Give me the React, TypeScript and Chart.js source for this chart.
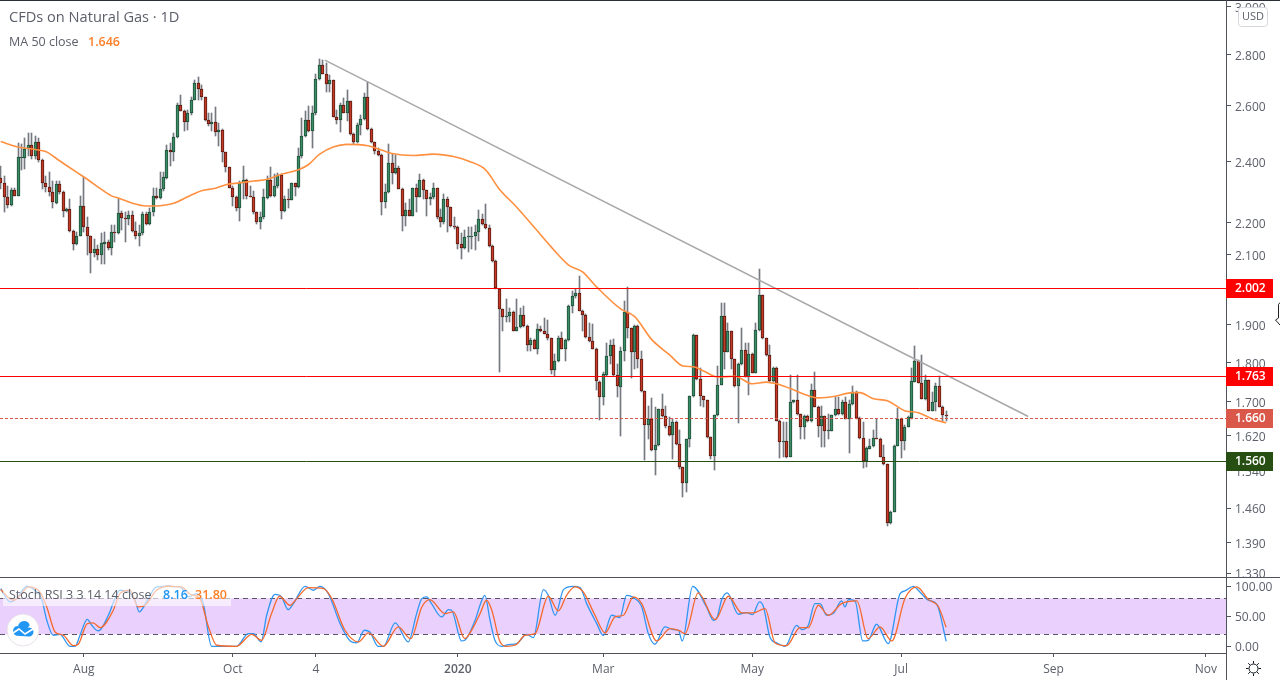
import React, { useEffect, useRef } from "react";
import { Chart, registerables } from "chart.js";

Chart.register(...registerables);

const FONT = '"Open Sans", "Noto Sans", sans-serif';

const opens = [
  2.344,2.329,2.282,2.256,2.303,2.285,2.414,2.413,2.445,2.459,
  2.419,2.469,2.406,2.328,2.315,2.299,2.263,2.324,2.297,2.235,
  2.242,2.173,2.132,2.157,2.253,2.185,2.157,2.105,2.117,2.098,
  2.134,2.139,2.12,2.17,2.165,2.228,2.214,2.21,2.222,2.172,
  2.157,2.166,2.226,2.193,2.232,2.285,2.278,2.307,2.344,2.441,
  2.433,2.487,2.602,2.58,2.54,2.573,2.622,2.685,2.662,2.632,
  2.547,2.532,2.54,2.504,2.512,2.433,2.38,2.312,2.282,2.244,
  2.326,2.339,2.285,2.282,2.232,2.201,2.216,2.279,2.339,2.285,
  2.316,2.354,2.237,2.275,2.273,2.326,2.315,2.419,2.49,2.548,
  2.507,2.573,2.703,2.755,2.722,2.683,2.697,2.559,2.547,2.602,
  2.575,2.617,2.496,2.468,2.529,2.551,2.632,2.515,2.469,2.437,
  2.423,2.264,2.298,2.396,2.362,2.379,2.309,2.219,2.238,2.221,
  2.312,2.282,2.336,2.303,2.274,2.28,2.312,2.216,2.2,2.274,
  2.248,2.188,2.184,2.131,2.12,2.154,2.157,2.157,2.17,2.21,
  2.194,2.182,2.126,2.081,1.999,1.943,1.921,1.923,1.933,1.883,
  1.892,1.927,1.897,1.844,1.858,1.835,1.889,1.881,1.875,1.863,
  1.779,1.803,1.863,1.835,1.858,1.95,1.978,1.987,1.937,1.927,
  1.866,1.855,1.835,1.75,1.713,1.768,1.816,1.844,1.767,1.738,
  1.828,1.935,1.89,1.827,1.897,1.809,1.727,1.644,1.658,1.586,
  1.598,1.682,1.665,1.642,1.621,1.653,1.6,1.549,1.513,1.611,
  1.715,1.871,1.758,1.715,1.704,1.616,1.574,1.669,1.743,1.922,
  1.827,1.881,1.807,1.74,1.794,1.831,1.763,1.822,1.773,1.885,
  1.982,1.863,1.818,1.751,1.785,1.655,1.605,1.607,1.571,1.699,
  1.705,1.671,1.64,1.667,1.654,1.73,1.688,1.643,1.665,1.631,
  1.631,1.669,1.684,1.671,1.701,1.659,1.695,1.724,1.662,1.615,
  1.561,1.59,1.595,1.615,1.613,1.572,1.555,1.429,1.452,1.597,
  1.66,1.608,1.641,1.661,1.75,1.803,1.747,1.708,1.755,1.679,
  1.699,1.739,1.689,1.669,
];
const closes = [
  2.329,2.282,2.256,2.303,2.285,2.415,2.415,2.445,2.459,2.419,
  2.469,2.406,2.328,2.315,2.299,2.264,2.324,2.297,2.235,2.242,
  2.173,2.132,2.157,2.253,2.185,2.157,2.105,2.117,2.098,2.136,
  2.139,2.12,2.17,2.165,2.228,2.214,2.21,2.222,2.172,2.157,
  2.166,2.226,2.193,2.232,2.285,2.278,2.307,2.346,2.441,2.433,
  2.488,2.602,2.58,2.54,2.573,2.622,2.685,2.662,2.632,2.547,
  2.532,2.54,2.504,2.512,2.433,2.38,2.312,2.282,2.244,2.326,
  2.339,2.285,2.282,2.232,2.201,2.216,2.28,2.339,2.285,2.317,
  2.354,2.237,2.275,2.273,2.326,2.315,2.42,2.491,2.548,2.507,
  2.573,2.703,2.755,2.722,2.683,2.697,2.559,2.547,2.602,2.575,
  2.617,2.496,2.468,2.53,2.551,2.632,2.515,2.469,2.437,2.423,
  2.264,2.298,2.396,2.362,2.379,2.309,2.219,2.238,2.221,2.312,
  2.282,2.336,2.303,2.274,2.28,2.312,2.216,2.2,2.274,2.248,
  2.188,2.184,2.131,2.12,2.154,2.158,2.158,2.171,2.21,2.194,
  2.182,2.126,2.081,2.001,1.943,1.921,1.923,1.933,1.883,1.892,
  1.927,1.897,1.844,1.858,1.835,1.889,1.881,1.875,1.863,1.779,
  1.803,1.863,1.835,1.858,1.95,1.978,1.987,1.937,1.927,1.866,
  1.855,1.835,1.752,1.713,1.77,1.816,1.844,1.767,1.74,1.828,
  1.935,1.89,1.827,1.897,1.809,1.727,1.644,1.658,1.586,1.598,
  1.682,1.665,1.642,1.621,1.653,1.6,1.549,1.513,1.611,1.715,
  1.871,1.758,1.715,1.704,1.616,1.574,1.669,1.743,1.922,1.827,
  1.881,1.807,1.74,1.794,1.831,1.763,1.822,1.773,1.886,1.982,
  1.863,1.818,1.752,1.785,1.655,1.605,1.607,1.571,1.699,1.705,
  1.671,1.64,1.667,1.654,1.73,1.688,1.643,1.665,1.631,1.632,
  1.669,1.684,1.671,1.701,1.659,1.695,1.724,1.662,1.615,1.561,
  1.591,1.595,1.615,1.614,1.571,1.555,1.429,1.452,1.597,1.659,
  1.608,1.641,1.663,1.752,1.803,1.747,1.708,1.755,1.679,1.699,
  1.739,1.689,1.668,1.666,
];
const highs = [
  2.385,2.351,2.318,2.312,2.312,2.465,2.46,2.483,2.5,2.5,
  2.489,2.483,2.408,2.351,2.363,2.335,2.335,2.335,2.302,2.247,
  2.275,2.175,2.17,2.286,2.346,2.216,2.157,2.149,2.128,2.165,
  2.17,2.144,2.19,2.19,2.275,2.237,2.232,2.237,2.237,2.2,
  2.19,2.232,2.232,2.247,2.312,2.312,2.363,2.363,2.459,2.465,
  2.5,2.61,2.64,2.585,2.585,2.635,2.698,2.708,2.679,2.635,
  2.573,2.573,2.595,2.537,2.515,2.435,2.38,2.318,2.285,2.335,
  2.385,2.34,2.318,2.302,2.232,2.232,2.307,2.351,2.38,2.357,
  2.36,2.357,2.285,2.307,2.326,2.329,2.448,2.555,2.58,2.598,
  2.598,2.72,2.78,2.776,2.763,2.717,2.697,2.585,2.61,2.628,
  2.66,2.617,2.501,2.535,2.567,2.647,2.692,2.519,2.469,2.448,
  2.425,2.323,2.463,2.425,2.423,2.385,2.312,2.261,2.275,2.312,
  2.323,2.357,2.342,2.305,2.296,2.327,2.312,2.242,2.291,2.28,
  2.248,2.216,2.188,2.165,2.175,2.185,2.185,2.19,2.239,2.226,
  2.258,2.19,2.128,2.083,1.999,1.943,1.971,1.945,1.936,1.971,
  1.945,1.95,1.899,1.864,1.86,1.901,1.895,1.917,1.912,1.864,
  1.82,1.868,1.879,1.86,1.954,1.992,1.999,2.037,1.94,1.928,
  1.904,1.902,1.837,1.752,1.775,1.85,1.857,1.86,1.795,1.84,
  1.964,2.006,1.89,1.899,1.899,1.828,1.727,1.691,1.709,1.687,
  1.683,1.72,1.691,1.663,1.659,1.655,1.632,1.549,1.612,1.715,
  1.874,1.871,1.786,1.715,1.706,1.617,1.669,1.79,1.959,1.959,
  1.904,1.883,1.809,1.799,1.89,1.851,1.851,1.824,1.904,2.057,
  1.982,1.864,1.846,1.788,1.788,1.657,1.651,1.651,1.766,1.706,
  1.766,1.672,1.669,1.669,1.745,1.775,1.691,1.691,1.667,1.671,
  1.669,1.713,1.711,1.705,1.711,1.705,1.739,1.726,1.663,1.651,
  1.594,1.612,1.632,1.66,1.615,1.599,1.556,1.453,1.599,1.685,
  1.661,1.644,1.665,1.784,1.842,1.805,1.818,1.767,1.755,1.725,
  1.747,1.764,1.691,1.677,
];
const lows = [
  2.307,2.234,2.247,2.251,2.285,2.285,2.37,2.374,2.42,2.408,
  2.408,2.397,2.307,2.297,2.285,2.247,2.259,2.29,2.216,2.232,
  2.17,2.113,2.129,2.157,2.17,2.098,2.045,2.093,2.083,2.073,
  2.073,2.113,2.098,2.139,2.164,2.175,2.139,2.19,2.17,2.149,
  2.125,2.159,2.19,2.19,2.221,2.275,2.275,2.302,2.34,2.385,
  2.402,2.484,2.579,2.507,2.51,2.567,2.62,2.622,2.622,2.543,
  2.525,2.507,2.49,2.454,2.397,2.363,2.312,2.252,2.237,2.203,
  2.275,2.275,2.28,2.226,2.196,2.18,2.211,2.275,2.28,2.28,
  2.312,2.211,2.232,2.247,2.27,2.285,2.312,2.413,2.487,2.504,
  2.448,2.567,2.7,2.72,2.654,2.654,2.557,2.532,2.503,2.573,
  2.543,2.495,2.463,2.466,2.495,2.549,2.513,2.465,2.428,2.419,
  2.224,2.246,2.296,2.323,2.357,2.307,2.172,2.187,2.221,2.219,
  2.232,2.28,2.275,2.221,2.254,2.275,2.211,2.185,2.195,2.168,
  2.185,2.18,2.118,2.086,2.118,2.108,2.118,2.113,2.141,2.19,
  2.18,2.123,2.078,1.999,1.775,1.881,1.908,1.908,1.881,1.881,
  1.89,1.894,1.829,1.829,1.833,1.82,1.879,1.874,1.859,1.769,
  1.764,1.801,1.833,1.804,1.856,1.931,1.973,1.936,1.883,1.864,
  1.853,1.833,1.73,1.657,1.692,1.765,1.795,1.765,1.713,1.62,
  1.803,1.864,1.76,1.782,1.786,1.725,1.564,1.611,1.584,1.531,
  1.595,1.663,1.638,1.62,1.567,1.598,1.545,1.483,1.495,1.594,
  1.713,1.755,1.691,1.687,1.615,1.567,1.543,1.667,1.741,1.782,
  1.826,1.782,1.738,1.65,1.792,1.762,1.717,1.772,1.771,1.883,
  1.861,1.816,1.75,1.749,1.654,1.569,1.571,1.569,1.57,1.697,
  1.669,1.612,1.613,1.653,1.653,1.687,1.616,1.594,1.594,1.612,
  1.63,1.667,1.669,1.669,1.658,1.581,1.693,1.66,1.613,1.547,
  1.549,1.589,1.594,1.612,1.57,1.553,1.422,1.428,1.451,1.596,
  1.569,1.587,1.64,1.66,1.75,1.746,1.707,1.706,1.678,1.678,
  1.678,1.687,1.655,1.655,
];

const maIdx = [0,5,10,13,17,22,25,29,32,34,38,42,46,50,54,58,62,65,69,73,77,81,86,89,92,96,100,106,110,113,119,125,131,135,140,144,149,154,159,164,168,172,179,183,188,193,197,200,203,207,212,217,221,224,228,232,236,241,246,248,252,256,261,265,269,273];
const maVal = [2.47,2.451,2.442,2.435,2.403,2.363,2.34,2.307,2.285,2.278,2.261,2.252,2.253,2.261,2.282,2.302,2.31,2.322,2.328,2.334,2.34,2.357,2.372,2.391,2.425,2.451,2.46,2.455,2.44,2.428,2.421,2.426,2.417,2.402,2.372,2.307,2.248,2.185,2.123,2.069,2.049,2.006,1.943,1.922,1.859,1.82,1.79,1.788,1.777,1.762,1.764,1.745,1.749,1.745,1.733,1.719,1.71,1.714,1.723,1.723,1.708,1.703,1.679,1.674,1.659,1.65];

const kIdx = [0,2.7,4.6,7.5,9.9,11.8,13.3,15.2,17.1,20,21.5,22.9,25,26.3,28.2,31.1,33,34.4,36.9,38.8,40,42.1,45,47.9,51.8,54.2,56.6,58.5,60.9,63.3,68.1,71.5,73,75.2,76.8,79.2,81.1,83,84.5,87.9,90.3,92.2,94.6,98,100.9,102.8,105,106.6,109,110.5,113.9,117.7,120.1,121.6,123,124.4,127.3,129.3,130.2,133.1,134,137,138.4,139.8,141.3,142.7,144.7,146.6,149,151.9,153.8,156.7,158.1,160.1,162.5,165.3,167.3,169.2,172.1,174,176.4,178.8,180.7,182.7,185.1,187,188.9,191.8,194.2,195.7,196.8,199.8,203.8,205.8,206.9,208.2,209.8,213,215.4,217.1,219.1,220.2,222.1,224.1,226.5,229.8,231.3,233.2,235.1,236.6,238.5,240.4,242.8,243.8,244.8,246.7,248.9,250.5,252.9,256.3,259.7,261.1,263.5,265.4,267.9,270.3,273];
const kVal = [96.1,73.9,79.5,100,93.4,79.5,43.4,18.4,20,0,0,18.4,45,35,25.6,51.7,79.5,93.4,90.6,76.7,57.3,73.9,98.9,100,98.9,82.3,87.8,71.1,0,0,0,21.1,21.1,7.3,51.7,86.7,82.3,61.1,71.1,100,93.4,100,87.8,37.8,8.9,5.6,26.7,23.9,0,0,38.9,7.3,54.5,79.5,82.3,71.1,48.9,61.1,60,8.9,10,43.4,68.4,85,43.4,10,0,2.8,4.5,20,14.5,94.5,85,51.7,94.5,100,97.8,71.1,37.8,17.8,51.7,47.8,85,81.1,65.6,21.1,3.4,32.3,27.8,26.7,8.9,100,65.6,43.4,48.9,77.8,88.9,53.4,56.1,52.8,73.9,66.7,15.6,5.6,0,35,27.8,35,71.1,71.1,51.7,54.5,75.6,65.6,77.8,75.6,8.9,10,36.7,4.5,87.8,92.3,100,90.6,76.7,70,8.16];

const dIdx = [0,3.6,5.6,8,11.3,13.3,15.7,18.1,21,22.4,25,26.7,28.7,32.5,34.4,37.3,39.7,41.7,45,48.4,52.2,54.7,57.5,60,62.4,68.1,72.5,75.3,78.2,80.5,83.5,85.5,88.8,93.2,95.6,99.4,103.3,106.2,110.5,114.8,118.4,121.6,123.9,128.3,130.7,134,136.5,138.4,140.3,141.8,144.2,146.1,149,151.4,154.3,158.1,161,163.4,165.8,168.2,171.6,174.5,177.4,179.8,182.7,185.1,189.4,193.3,196.1,197.6,201.4,206.3,210.1,214,217.3,220.7,223.6,226.9,230.8,233.2,236.1,239,242.8,247.2,250.5,253.9,257.3,261.1,264.5,267.9,270.7,273];
const dVal = [94.5,76.7,85,98.9,90.6,65.6,23.9,18.4,1.1,3.4,37.8,38.9,31.1,60,87.8,93.4,65.6,68.4,93.4,100,98.9,86.7,79.5,32.3,1.7,0,20,10,54.5,83.4,68.4,79.5,97.8,96.1,79.5,26.7,7.3,22.3,0,32.3,12.8,65.6,77.8,54.5,57.3,12.8,32.3,54.5,76.7,60,7.3,0,3.4,18.4,21.1,83.4,59,85,98.9,90.6,51.7,22.3,48.9,51.7,82.3,71.1,8.9,29.5,25.6,21.1,88.9,44.5,83.4,55.6,55.6,62.8,5.6,1.1,31.1,31.1,68.4,51.7,71.1,75.6,12.8,32.3,8.9,79.5,98.9,77.8,66.7,31.8];

const trendIdx = [93.6, 296.7];
const trendVal = [2.776, 1.665];

const priceTicks = [3.0, 2.8, 2.6, 2.4, 2.2, 2.1, 1.9, 1.8, 1.7, 1.62, 1.54, 1.46, 1.39, 1.33];
const rsiTicks = [0, 50, 100];
const dateTickIdx = [24, 67, 91, 132, 174, 217, 260, 304, 348];
const dateTickLabels = ["Aug", "Oct", "4", "2020", "Mar", "May", "Jul", "Sep", "Nov"];

const levelValues = [2.002, 1.763, 1.66, 1.56];
const levelLabels = ["2.002", "1.763", "1.660", "1.560"];
const levelColors = ["#ff0000", "#ff0000", "#d9584a", "#274f13"];
const rsiBand = [20, 80];

const X_MIN = -0.2;
const X_MAX = 353.8;
const LINE = "#50535e";
const TEXT = "#5d606b";

const snap = (chart: any, wick: boolean, idx: number) => {
  const meta = chart.getDatasetMeta(idx);
  meta.data.forEach((el: any) => {
    el.x = wick ? Math.floor(el.x) + 0.5 : Math.round(el.x - 1.5) + 1.5;
    el.y = Math.round(el.y);
    el.base = Math.round(el.base);
    if (el.base === el.y) el.base = el.y + 1;
  });
};

const overlay = {
  id: "overlay",
  afterDatasetsUpdate(chart: any) {
    snap(chart, true, 0);
    snap(chart, false, 1);
    snap(chart, false, 2);
    [5, 6, 7, 8].forEach((d) => {
      chart.getDatasetMeta(d).data.forEach((el: any) => {
        el.y = Math.floor(el.y) + 0.5;
      });
    });
  },
  beforeDatasetsDraw(chart: any) {
    const { ctx, chartArea, scales } = chart;
    const y1 = scales.yRsi.getPixelForValue(rsiBand[1]);
    const y0 = scales.yRsi.getPixelForValue(rsiBand[0]);
    ctx.save();
    ctx.fillStyle = "#e9d0fd";
    ctx.fillRect(chartArea.left, y1, chartArea.right - chartArea.left, y0 - y1);
    ctx.strokeStyle = "#5a5566";
    ctx.lineWidth = 1;
    ctx.setLineDash([5, 4]);
    [y1, y0].forEach((y: number) => {
      const py = Math.floor(y) + 0.5;
      ctx.beginPath();
      ctx.moveTo(chartArea.left, py);
      ctx.lineTo(chartArea.right, py);
      ctx.stroke();
    });
    ctx.restore();
  },
  afterDraw(chart: any) {
    const { ctx, scales } = chart;
    ctx.save();
    // frame
    ctx.fillStyle = "#ffffff";
    ctx.fillRect(1227, 578, 53, 2);
    ctx.fillStyle = "#2a2e39";
    ctx.fillRect(0, 0, 1280, 1);
    ctx.fillStyle = LINE;
    ctx.fillRect(0, 577, 1280, 1);
    ctx.fillRect(0, 653, 1226, 1);
    ctx.fillRect(1226, 0, 1, 680);

    // price labels
    ctx.textBaseline = "middle";
    ctx.textAlign = "left";
    levelValues.forEach((v, i) => {
      const y = Math.floor(scales.y.getPixelForValue(v));
      ctx.fillStyle = levelColors[i];
      ctx.fillRect(1226, y - 9, 47, 19);
      ctx.fillStyle = "#ffffff";
      ctx.font = `600 12px ${FONT}`;
      ctx.fillText(levelLabels[i], 1235, y + 1);
    });

    // USD
    ctx.fillStyle = "#ffffff";
    ctx.strokeStyle = "#d6d8de";
    ctx.lineWidth = 1;
    ctx.beginPath();
    ctx.roundRect(1238.5, 7.5, 29, 19, 3);
    ctx.fill();
    ctx.stroke();
    ctx.fillStyle = TEXT;
    ctx.font = `11px ${FONT}`;
    ctx.textAlign = "center";
    ctx.fillText("USD", 1253, 17);
    ctx.textAlign = "left";

    // cursor
    ctx.fillStyle = "#ffffff";
    ctx.strokeStyle = "#222222";
    ctx.beginPath();
    ctx.moveTo(1280, 302.5);
    ctx.lineTo(1278.5, 304.5);
    ctx.lineTo(1278.5, 318);
    ctx.lineTo(1275.5, 320);
    ctx.lineTo(1280, 325);
    ctx.fill();
    ctx.stroke();

    // headers
    ctx.fillStyle = TEXT;
    ctx.font = `14.6px ${FONT}`;
    ctx.fillText("CFDs on Natural Gas · 1D", 9, 18);
    ctx.font = `12.5px ${FONT}`;
    ctx.fillText("MA 50 close", 9, 42);
    ctx.fillStyle = "#ff7f27";
    ctx.font = `600 12.5px ${FONT}`;
    ctx.fillText("1.646", 88, 42);

    // stoch header
    ctx.fillStyle = "rgba(255,255,255,0.6)";
    ctx.fillRect(3, 586, 228, 20);
    ctx.fillStyle = TEXT;
    ctx.font = `12.5px ${FONT}`;
    ctx.fillText("Stoch RSI 3 3 14 14 close", 9, 595);
    ctx.font = `600 12.5px ${FONT}`;
    ctx.fillStyle = "#2196f3";
    ctx.fillText("8.16", 163, 595);
    ctx.fillStyle = "#ff7f27";
    ctx.fillText("31.80", 195, 595);

    // logo
    ctx.fillStyle = "#ffffff";
    ctx.strokeStyle = "#e8dfea";
    ctx.beginPath();
    ctx.arc(23, 630, 16, 0, Math.PI * 2);
    ctx.fill();
    ctx.stroke();
    ctx.fillStyle = "#2196f3";
    ctx.beginPath();
    ctx.arc(18, 631, 5, Math.PI * 0.6, Math.PI * 1.5);
    ctx.arc(24, 627, 6, Math.PI, Math.PI * 1.9);
    ctx.arc(29, 632, 4.5, Math.PI * 1.4, Math.PI * 0.5);
    ctx.closePath();
    ctx.fill();
    ctx.strokeStyle = "#ffffff";
    ctx.lineWidth = 1.6;
    ctx.beginPath();
    ctx.moveTo(13, 633);
    ctx.lineTo(19, 629);
    ctx.lineTo(25, 634);
    ctx.lineTo(33, 629);
    ctx.stroke();

    // sun
    ctx.strokeStyle = "#131722";
    ctx.lineWidth = 1;
    ctx.beginPath();
    ctx.arc(1253.5, 668.5, 4.5, 0, Math.PI * 2);
    ctx.stroke();
    for (let a = 0; a < 8; a++) {
      const t = (a * Math.PI) / 4;
      ctx.beginPath();
      ctx.moveTo(1253.5 + Math.cos(t) * 5, 668.5 + Math.sin(t) * 5);
      ctx.lineTo(1253.5 + Math.cos(t) * 7.5, 668.5 + Math.sin(t) * 7.5);
      ctx.stroke();
    }
    ctx.restore();
  },
};

const zeroPad = (s: any) => {
  s.paddingTop = 0;
  s.paddingBottom = 0;
  s.paddingLeft = 0;
  s.paddingRight = 0;
};

export default function App() {
  const ref = useRef<HTMLCanvasElement | null>(null);
  useEffect(() => {
    document.body.style.margin = "0";
    const idx = opens.map((_, i) => i);
    const up = idx.filter((i) => closes[i] >= opens[i]);
    const down = idx.filter((i) => closes[i] < opens[i]);
    const pts = (xs: number[], ys: number[]) => xs.map((x, i) => ({ x, y: ys[i] }));
    const level = (i: number, extra: any) => ({
      type: "line",
      yAxisID: "y",
      data: [
        { x: X_MIN, y: levelValues[i] },
        { x: X_MAX, y: levelValues[i] },
      ],
      borderColor: levelColors[i],
      borderWidth: 1,
      pointRadius: 0,
      order: 0,
      ...extra,
    });
    const chart = new Chart(ref.current as HTMLCanvasElement, {
      type: "bar",
      data: {
        datasets: [
          {
            type: "bar",
            yAxisID: "y",
            data: idx.map((i) => ({ x: i, y: [lows[i], highs[i]] })),
            backgroundColor: "#75787f",
            barThickness: 1,
            grouped: false,
            order: 5,
          },
          {
            type: "bar",
            yAxisID: "y",
            data: up.map((i) => ({ x: i, y: [opens[i], closes[i]] })),
            backgroundColor: "#3c8c68",
            borderColor: "#1d4f38",
            borderWidth: 1,
            borderSkipped: false,
            barThickness: 3,
            grouped: false,
            order: 4,
          },
          {
            type: "bar",
            yAxisID: "y",
            data: down.map((i) => ({ x: i, y: [opens[i], closes[i]] })),
            backgroundColor: "#c43a28",
            borderColor: "#5a1a10",
            borderWidth: 1,
            borderSkipped: false,
            barThickness: 3,
            grouped: false,
            order: 3,
          },
          {
            type: "line",
            yAxisID: "y",
            data: pts(maIdx, maVal),
            borderColor: "#ff9040",
            borderWidth: 1.6,
            pointRadius: 0,
            cubicInterpolationMode: "monotone",
            order: 2,
          },
          {
            type: "line",
            yAxisID: "y",
            data: pts(trendIdx, trendVal),
            borderColor: "#a8a8a8",
            borderWidth: 1.5,
            pointRadius: 0,
            order: 1,
          },
          level(0, {}),
          level(1, {}),
          level(2, { borderDash: [3, 2] }),
          level(3, {}),
          {
            type: "line",
            yAxisID: "yRsi",
            data: pts(kIdx, kVal),
            borderColor: "#2f96f3",
            borderWidth: 1.3,
            pointRadius: 0,
            cubicInterpolationMode: "monotone",
            order: 1,
          },
          {
            type: "line",
            yAxisID: "yRsi",
            data: pts(dIdx, dVal),
            borderColor: "#f6692c",
            borderWidth: 1.3,
            pointRadius: 0,
            cubicInterpolationMode: "monotone",
            order: 0,
          },
        ] as any,
      },
      options: {
        responsive: false,
        animation: false,
        maintainAspectRatio: false,
        devicePixelRatio: 1,
        layout: { padding: { top: 1, left: 0, right: 0, bottom: 0 } },
        plugins: { legend: { display: false }, tooltip: { enabled: false } },
        scales: {
          x: {
            type: "linear",
            min: X_MIN,
            max: X_MAX,
            offset: false,
            bounds: "data",
            border: { display: false },
            grid: {
              display: true,
              drawOnChartArea: false,
              drawTicks: true,
              tickLength: 4,
              tickColor: LINE,
              offset: false,
            },
            afterBuildTicks: (s: any) => {
              s.ticks = dateTickIdx.map((value) => ({ value }));
            },
            afterFit: (s: any) => {
              s.height = 27;
              zeroPad(s);
            },
            ticks: {
              autoSkip: false,
              maxRotation: 0,
              padding: 5,
              color: TEXT,
              font: (c: any) => ({
                family: FONT,
                size: 12,
                weight: c.tick && c.tick.value === 132 ? "600" : "400",
              }),
              callback: (v: any) => {
                const k = dateTickIdx.indexOf(Number(v));
                return k >= 0 ? dateTickLabels[k] : "";
              },
            },
          },
          y: {
            type: "logarithmic",
            position: "right",
            stack: "panes",
            stackWeight: 576,
            min: 1.3225,
            max: 3.022,
            bounds: "data",
            border: { display: false },
            grid: { display: true, drawOnChartArea: false, tickLength: 5, tickColor: LINE },
            afterBuildTicks: (s: any) => {
              s.ticks = priceTicks.map((value) => ({ value }));
            },
            afterFit: (s: any) => {
              s.width = 54;
              zeroPad(s);
            },
            ticks: {
              autoSkip: false,
              padding: 4,
              labelOffset: 2,
              color: TEXT,
              font: { family: FONT, size: 12 },
              callback: (v: any) => Number(v).toFixed(3),
            },
          },
          yRsi: {
            type: "linear",
            position: "right",
            stack: "panes",
            stackWeight: 76,
            min: -11.2,
            max: 115.5,
            bounds: "data",
            border: { display: false },
            grid: { display: true, drawOnChartArea: false, tickLength: 5, tickColor: LINE },
            afterBuildTicks: (s: any) => {
              s.ticks = rsiTicks.map((value) => ({ value }));
            },
            afterFit: (s: any) => {
              s.width = 54;
              zeroPad(s);
            },
            ticks: {
              autoSkip: false,
              padding: 4,
              labelOffset: 1,
              color: TEXT,
              font: { family: FONT, size: 12 },
              callback: (v: any) => Number(v).toFixed(2),
            },
          },
        },
      } as any,
      plugins: [overlay] as any,
    });
    return () => chart.destroy();
  }, []);
  return (
    <div style={{ position: "absolute", left: 0, top: 0, width: 1280, height: 680, background: "#fff" }}>
      <canvas ref={ref} width={1280} height={680} style={{ display: "block" }} />
    </div>
  );
}
